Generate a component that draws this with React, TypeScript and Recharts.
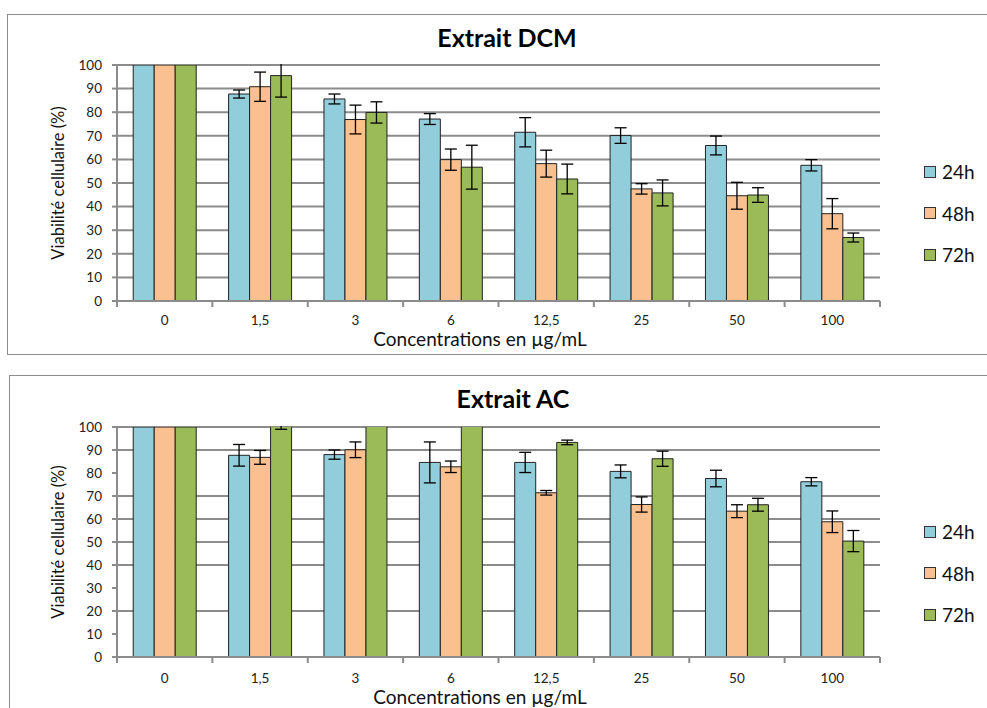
import { BarChart, Bar, XAxis, YAxis, CartesianGrid, ErrorBar, Legend } from 'recharts'

const concentrations = ['0', '1,5', '3', '6', '12,5', '25', '50', '100']
const seriesNames = ['24h', '48h', '72h']
const seriesColors = ['#92cddc', '#fac090', '#9bbb59']
const yTicks = [0, 10, 20, 30, 40, 50, 60, 70, 80, 90, 100]

// Extrait DCM
const dcm24 = [100, 87.7, 85.6, 77.1, 71.5, 70.1, 65.9, 57.5]
const dcm48 = [100, 90.8, 76.9, 59.9, 58.2, 47.5, 44.6, 37.0]
const dcm72 = [100, 95.5, 79.9, 56.7, 51.7, 45.8, 44.9, 26.9]
const dcm24Err = [null, 1.7, 2.1, 2.3, 6.2, 3.3, 4.0, 2.4]
const dcm48Err = [null, 6.2, 6.1, 4.5, 5.7, 2.2, 5.7, 6.4]
const dcm72Err = [null, 9.1, 4.5, 9.3, 6.3, 5.5, 3.1, 1.9]

// Extrait AC
const ac24 = [100, 87.7, 88.0, 84.6, 84.6, 80.7, 77.6, 76.2]
const ac48 = [100, 86.8, 90.1, 82.7, 71.4, 66.3, 63.4, 58.8]
const ac72 = [100, 104, 108, 115, 93.3, 86.2, 66.2, 50.4]
const ac24Err = [null, 4.7, 2.0, 8.9, 4.4, 2.8, 3.6, 1.8]
const ac48Err = [null, 3.0, 3.4, 2.5, 1.0, 3.3, 2.8, 4.7]
const ac72Err = [null, 5, 3, 5, 1.0, 3.3, 2.8, 4.6]

const FONT = 'Lato, "Liberation Sans", sans-serif'
const GRID = '#8c8c8c'
const TICK_FS = 13.5

function buildRows(v: number[][], e: (number | null)[][]) {
  return concentrations.map((c, i) => ({
    conc: c,
    h24: v[0][i], h48: v[1][i], h72: v[2][i],
    e24: e[0][i], e48: e[1][i], e72: e[2][i],
  }))
}

// tick marks sit between categories, as in the spreadsheet original
function ConcTick(props: any) {
  const { x, y, payload, index, visibleTicksCount, labelDy } = props
  const half = payload?.offset ?? 0
  const last = index === visibleTicksCount - 1
  return (
    <g>
      <line x1={x - half} x2={x - half} y1={y} y2={y + 6} stroke={GRID} strokeWidth={2} />
      {last && <line x1={x + half} x2={x + half} y1={y} y2={y + 6} stroke={GRID} strokeWidth={2} />}
      <text x={x} y={y + labelDy} textAnchor="middle" dominantBaseline="central" fontSize={TICK_FS} fill="#222" fontFamily={FONT}>
        {payload.value}
      </text>
    </g>
  )
}

function LegendBox(props: any) {
  const { payload } = props
  return (
    <div style={{ fontFamily: FONT }}>
      {(payload || []).map((p: any) => (
        <div key={p.value} style={{ display: 'flex', alignItems: 'center', height: 41.5 }}>
          <span style={{ width: 12, height: 12, background: p.color, border: '1px solid #333', marginRight: 6, boxSizing: 'border-box' }} />
          <span style={{ fontSize: 19, color: '#111' }}>{p.value}</span>
        </div>
      ))}
    </div>
  )
}

interface PanelProps {
  id: string
  title: string
  rows: any[]
  top: number
  height: number
  plotTop: number
  plotBottom: number
  titleX: number
  titleY: number
  tickDy: number
  xTitleBaseline: number
  legendTop: number
}

function Panel({ id, title, rows, top, height, plotTop, plotBottom, titleX, titleY, tickDy, xTitleBaseline, legendTop }: PanelProps) {
  return (
    <div className={'panel-' + id} style={{ position: 'absolute', left: 0, top, width: 987, height }}>
      <style>{`.panel-${id} .recharts-errorBars { clip-path: url(#clip-${id}); }`}</style>
      <svg width={0} height={0} style={{ position: 'absolute' }}>
        <defs>
          <clipPath id={'clip-' + id}>
            <rect x={0} y={plotTop - 1} width={987} height={plotBottom - plotTop + 2} />
          </clipPath>
        </defs>
      </svg>
      <div style={{ position: 'absolute', left: titleX - 200, top: titleY - 16, width: 400, textAlign: 'center', fontFamily: FONT, fontWeight: 700, fontSize: 25, lineHeight: '32px', color: '#000' }}>
        {title}
      </div>
      <BarChart
        width={987}
        height={height}
        data={rows}
        margin={{ top: plotTop, right: 107, bottom: 0, left: 0 }}
        barCategoryGap="17%"
        barGap={0}
      >
        <CartesianGrid horizontal vertical={false} stroke={GRID} strokeWidth={2} />
        <XAxis
          dataKey="conc"
          height={height - plotBottom}
          axisLine={{ stroke: GRID, strokeWidth: 2 }}
          tickLine={false}
          tickSize={0}
          tickMargin={0}
          interval={0}
          tick={<ConcTick labelDy={tickDy} />}
        />
        <YAxis
          width={117}
          domain={[0, 100]}
          ticks={yTicks}
          allowDataOverflow
          axisLine={{ stroke: GRID, strokeWidth: 2 }}
          tickLine={{ stroke: GRID, strokeWidth: 2 }}
          tickSize={5}
          tickMargin={10}
          tick={{ fontSize: TICK_FS, fill: '#222', fontFamily: FONT }}
          label={{ value: 'Viabilité cellulaire (%)', angle: -90, position: 'center', fontSize: 16.5, fill: '#111', fontFamily: FONT }}
        />
        <Legend
          layout="vertical"
          align="center"
          verticalAlign="middle"
          wrapperStyle={{ left: 924, top: legendTop, width: 60 }}
          content={<LegendBox />}
        />
        {['h24', 'h48', 'h72'].map((k, i) => (
          <Bar key={k} dataKey={k} name={seriesNames[i]} fill={seriesColors[i]} stroke="#222" strokeWidth={1} isAnimationActive={false}>
            <ErrorBar dataKey={'e' + k.slice(1)} width={6} stroke="#000" strokeWidth={1.3} direction="y" />
          </Bar>
        ))}
      </BarChart>
      <div style={{ position: 'absolute', left: 0, top: xTitleBaseline - 16.35, width: 960, textAlign: 'center', fontFamily: FONT, fontSize: 19, lineHeight: '18px', color: '#111' }}>
        Concentrations en µg/mL
      </div>
    </div>
  )
}

export default function App() {
  const dcmRows = buildRows([dcm24, dcm48, dcm72], [dcm24Err, dcm48Err, dcm72Err])
  const acRows = buildRows([ac24, ac48, ac72], [ac24Err, ac48Err, ac72Err])
  return (
    <div style={{ position: 'absolute', left: 0, top: 0, width: 987, height: 708, overflow: 'hidden', background: '#fff' }}>
      <div style={{ position: 'absolute', left: 7, top: 14, width: 1000, height: 339, border: '1px solid #8c8c8c' }} />
      <div style={{ position: 'absolute', left: 9, top: 375, width: 1000, height: 400, border: '1px solid #8c8c8c' }} />
      <Panel id="dcm" title="Extrait DCM" rows={dcmRows} top={0} height={360} plotTop={65} plotBottom={301}
        titleX={507} titleY={37} tickDy={19} xTitleBaseline={346} legendTop={151} />
      <Panel id="ac" title="Extrait AC" rows={acRows} top={370} height={338} plotTop={57} plotBottom={287}
        titleX={513} titleY={28} tickDy={20.5} xTitleBaseline={334} legendTop={141} />
    </div>
  )
}
